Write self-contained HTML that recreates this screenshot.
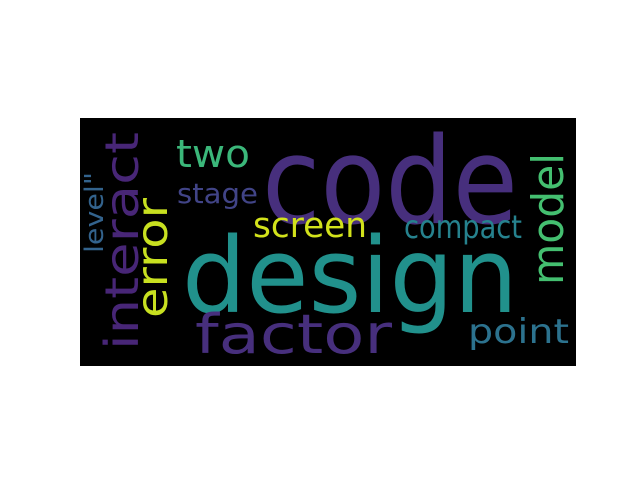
<!DOCTYPE html>
<html><head><meta charset="utf-8"><style>
html,body{margin:0;padding:0;background:#fff;width:640px;height:480px;overflow:hidden}
svg{display:block}
text{font-family:"DejaVu Sans","Liberation Sans",sans-serif}
</style></head><body>
<svg id="c" width="640" height="480">
<rect x="80" y="118" width="496" height="248" fill="#000"/>
</svg>
<script>
const words=["code","design","factor","interact","error","two","model","stage","screen","compact","point","level\""];
const sizes=[120,104,54,46,43,38,44,28,35,32,34,26];
const colors=["#472f7d","#21918c","#472f7d","#482677","#c8e020","#3bb77a","#44bf70","#414487","#d2e21b","#26828e","#2c728e","#33638d"];
const rotated=[0,0,0,1,1,0,1,0,0,0,0,1];
const anchorX=[262,182,195,138,167,176,563,177,253,404,468,103];
const anchorY=[223,312,353,350,318,167,285,203,237,238,343,253];
const lens=[256,336,197,218,120,74,132,81,114,118,101,81];
const svg=document.getElementById('c');
const NS="http://www.w3.org/2000/svg";
words.forEach((w,i)=>{
  const t=document.createElementNS(NS,'text');
  t.textContent=w;
  t.setAttribute('font-size',sizes[i]);
  t.setAttribute('fill',colors[i]);
  t.setAttribute('textLength',lens[i]);
  t.setAttribute('lengthAdjust','spacingAndGlyphs');
  if(rotated[i]){
    t.setAttribute('transform','translate('+anchorX[i]+','+anchorY[i]+') rotate(-90)');
  }else{
    t.setAttribute('x',anchorX[i]);t.setAttribute('y',anchorY[i]);
  }
  
  
  svg.appendChild(t);
});
</script>
</body></html>
